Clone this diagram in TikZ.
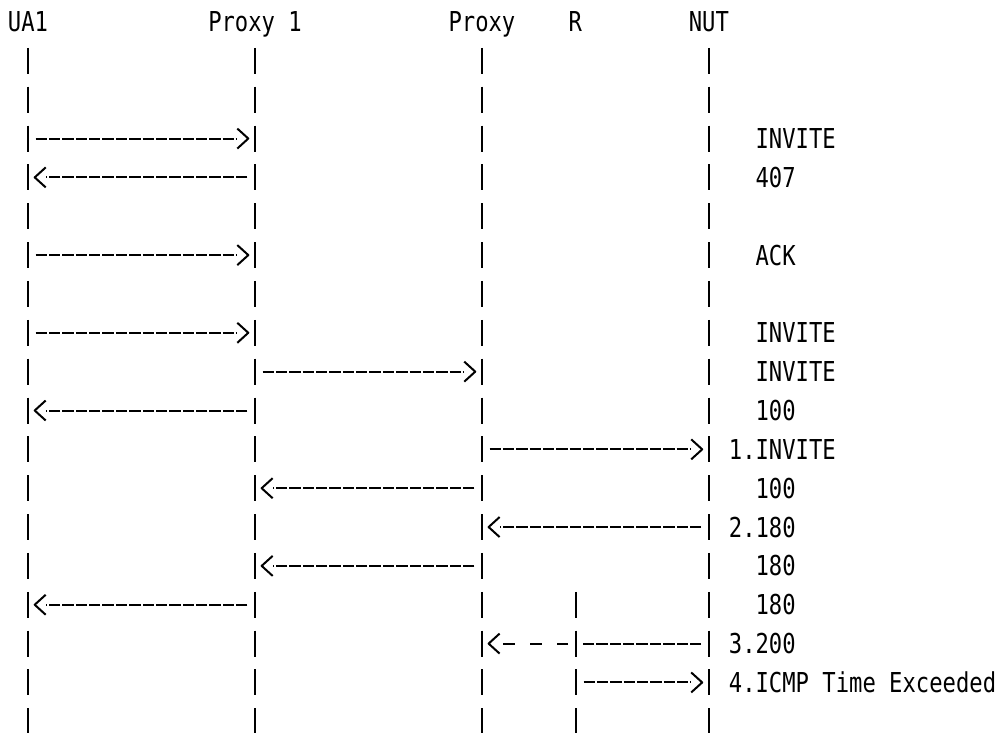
\documentclass[tikz,border=0pt]{standalone}
\usepackage{fontspec}
\newfontfamily\asciifont{DejaVu Sans Mono}[FakeStretch=0.81]
\usetikzlibrary{arrows.meta}

% open chevron tip, the shaft stops at its back
\pgfdeclarearrow{
  name = Chevron,
  parameters = {\the\pgfarrowlength,\the\pgfarrowwidth,\the\pgflinewidth},
  setup code = {
    \pgfarrowssettipend{\pgfarrowlength}
    \pgfarrowssetlineend{0pt}
    \pgfarrowssetbackend{0pt}
    \pgfarrowssavethe\pgfarrowlength
    \pgfarrowssavethe\pgfarrowwidth
  },
  drawing code = {
    \pgfsetdash{}{0pt}
    \pgfsetroundjoin
    \pgfpathmoveto{\pgfqpoint{0pt}{.5\pgfarrowwidth}}
    \pgfpathlineto{\pgfqpoint{\pgfarrowlength}{0pt}}
    \pgfpathlineto{\pgfqpoint{0pt}{-.5\pgfarrowwidth}}
    \pgfusepathqstroke
  },
  defaults = {length=11pt, width=20pt}
}

\begin{document}
\begin{tikzpicture}[
    x=1pt, y=-1pt,
    font=\asciifont\fontsize{27.4pt}{30pt}\selectfont,
    party/.style={anchor=base west, inner sep=0pt, outer sep=0pt},
    lbl/.style={party},
    lifeline/.style={draw=black, line width=2.6pt, dash pattern=on 26pt off 12.85pt},
    msg/.style={draw=black, line width=2pt, dash pattern=on 11.35pt off 2pt,
                dash phase=12.35pt, shorten <=6.675pt, shorten >=6.675pt},
    call/.style={msg, -{Chevron}},
    faded/.style={call, dash pattern=on 11.35pt off 15.35pt, dash phase=25.7pt},
]
\useasboundingbox (0,0) rectangle (999,733);

% ---- Participants -------------------------------------------------
\node[party] (ua1h) at (8,32)      {UA1};
\node[party] (p1h)  at (208.25,32) {Proxy 1};
\node[party] (p2h)  at (448.55,32) {Proxy};
\node[party] (rh)   at (568.7,32)  {R};
\node[party] (nuth) at (688.85,32) {NUT};

% ---- Lifelines ----------------------------------------------------
\coordinate (ua1) at (28.03,47.85);
\coordinate (p1)  at (254.98,47.85);
\coordinate (p2)  at (481.93,47.85);
\coordinate (r)   at (575.9,591.75);
\coordinate (nut) at (708.88,47.85);
\coordinate (bottom) at (0,734.3);
\foreach \k in {1,...,18} \coordinate (row\k) at (0,{22+38.85*\k});

\foreach \l in {ua1,p1,p2,r,nut} \draw[lifeline] (\l) -- (\l |- bottom);

% ---- Messages -----------------------------------------------------
\draw[call] (ua1 |- row3)  -- (p1 |- row3);
\draw[call] (p1 |- row4)   -- (ua1 |- row4);
\draw[call] (ua1 |- row6)  -- (p1 |- row6);
\draw[call] (ua1 |- row8)  -- (p1 |- row8);
\draw[call] (p1 |- row9)   -- (p2 |- row9);
\draw[call] (p1 |- row10)  -- (ua1 |- row10);
\draw[call] (p2 |- row11)  -- (nut |- row11);
\draw[call] (p2 |- row12)  -- (p1 |- row12);
\draw[call] (nut |- row13) -- (p2 |- row13);
\draw[call] (p2 |- row14)  -- (p1 |- row14);
\draw[call] (p1 |- row15)  -- (ua1 |- row15);
\draw[msg]  (nut |- row16) -- (r |- row16);
\draw[faded] (r |- row16)  -- (p2 |- row16);
\draw[call] (r |- row17)   -- (nut |- row17);

% ---- Labels -------------------------------------------------------
\node[lbl] (m3)  at (755.6,148.55) {INVITE};
\node[lbl] (m4)  at (755.6,187.4)  {407};
\node[lbl] (m6)  at (755.6,265.1)  {ACK};
\node[lbl] (m8)  at (755.6,342.8)  {INVITE};
\node[lbl] (m9)  at (755.6,381.65) {INVITE};
\node[lbl] (m10) at (755.6,420.5)  {100};
\node[lbl] (m11) at (728.9,459.35) {1.INVITE};
\node[lbl] (m12) at (755.6,498.2)  {100};
\node[lbl] (m13) at (728.9,537.05) {2.180};
\node[lbl] (m14) at (755.6,575.9)  {180};
\node[lbl] (m15) at (755.6,614.75) {180};
\node[lbl] (m16) at (728.9,653.6)  {3.200};
\node[lbl] (m17) at (728.9,692.45) {4.ICMP Time Exceeded};

\end{tikzpicture}
\end{document}
